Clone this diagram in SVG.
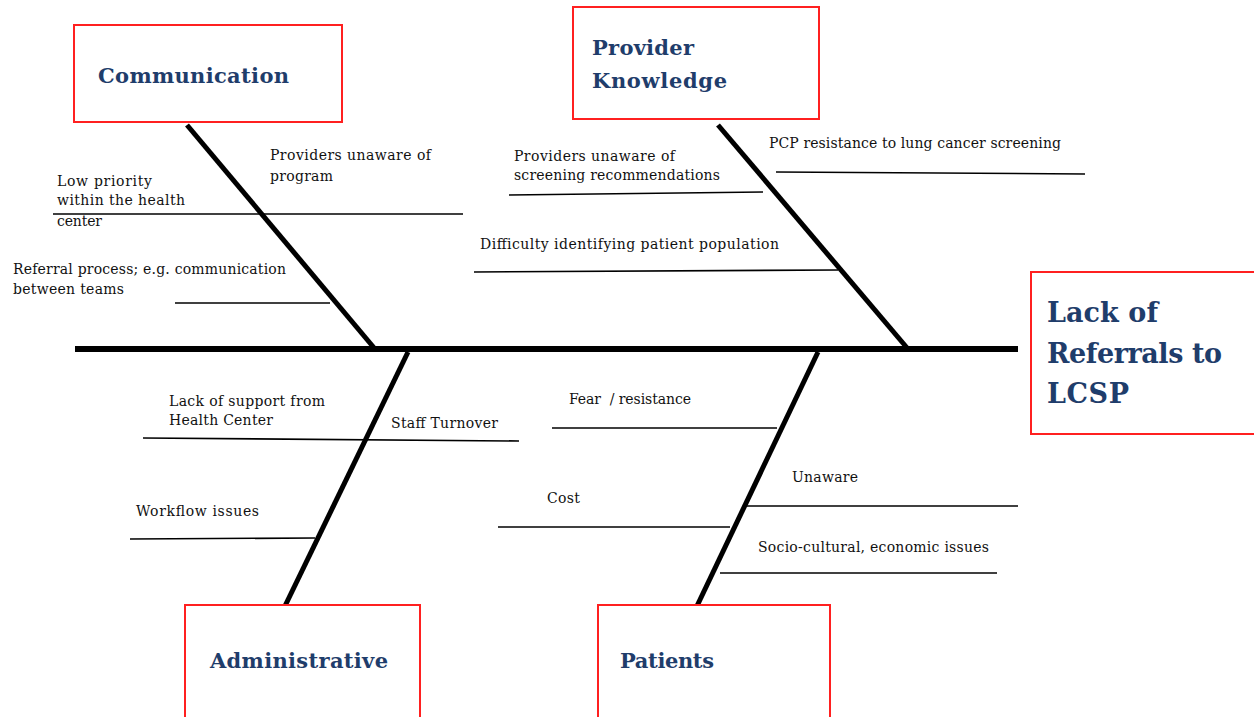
<svg xmlns="http://www.w3.org/2000/svg" width="1254" height="717" viewBox="0 0 1254 717">
  <style>
    .box { fill: #ffffff; stroke: #ff2020; stroke-width: 2; }
    .title { font-family: "DejaVu Serif", "Liberation Serif", serif; font-weight: bold; fill: #1f3d6b; }
    .bone { stroke: #000000; stroke-width: 5; stroke-linecap: butt; fill: none; }
    .spine { stroke: #000000; stroke-width: 6; fill: none; }
    .rib { stroke: #000000; stroke-width: 1.6; fill: none; }
    .cause { font-family: "DejaVu Serif", "Liberation Serif", serif; font-size: 14px; fill: #111111; }
  </style>
  <rect width="1254" height="717" fill="#ffffff"/>

  <!-- spine, bones and ribs -->
  <g id="connectors">
    <line class="spine" x1="75" y1="349" x2="1018" y2="349"/>
    <line class="bone" x1="187" y1="125" x2="375" y2="349"/>
    <line class="bone" x1="718" y1="125" x2="908" y2="349"/>
    <line class="bone" x1="408" y1="352" x2="285" y2="606"/>
    <line class="bone" x1="818" y1="352" x2="697" y2="606"/>

    <line class="rib" x1="53" y1="214" x2="463" y2="214"/>
    <line class="rib" x1="175" y1="303" x2="330" y2="303"/>
    <line class="rib" x1="509" y1="195" x2="763" y2="192"/>
    <line class="rib" x1="776" y1="172" x2="1085" y2="174"/>
    <line class="rib" x1="474" y1="272" x2="838" y2="270"/>
    <line class="rib" x1="143" y1="438" x2="519" y2="441"/>
    <line class="rib" x1="130" y1="539" x2="315" y2="538"/>
    <line class="rib" x1="552" y1="428" x2="777" y2="428"/>
    <line class="rib" x1="498" y1="527" x2="730" y2="527"/>
    <line class="rib" x1="745" y1="506" x2="1018" y2="506"/>
    <line class="rib" x1="720" y1="573" x2="997" y2="573"/>
  </g>

  <!-- cause labels -->
  <g id="communication-causes">
    <text class="cause" x="270" y="160" textLength="161">Providers unaware of</text>
    <text class="cause" x="270" y="181" textLength="63">program</text>
    <text class="cause" x="57" y="186" textLength="95">Low priority</text>
    <text class="cause" x="57" y="205" textLength="128">within the health</text>
    <text class="cause" x="57" y="226" textLength="45">center</text>
    <text class="cause" x="13" y="274" textLength="273">Referral process; e.g. communication</text>
    <text class="cause" x="13" y="294" textLength="111">between teams</text>
  </g>
  <g id="provider-causes">
    <text class="cause" x="514" y="161" textLength="161">Providers unaware of</text>
    <text class="cause" x="514" y="180" textLength="206">screening recommendations</text>
    <text class="cause" x="769" y="148" textLength="292">PCP resistance to lung cancer screening</text>
    <text class="cause" x="480" y="249" textLength="299">Difficulty identifying patient population</text>
  </g>
  <g id="administrative-causes">
    <text class="cause" x="169" y="406" textLength="156">Lack of support from</text>
    <text class="cause" x="169" y="425" textLength="104">Health Center</text>
    <text class="cause" x="391" y="428" textLength="107">Staff Turnover</text>
    <text class="cause" x="136" y="516" textLength="123">Workflow issues</text>
  </g>
  <g id="patient-causes">
    <text class="cause" x="569" y="404" textLength="122" xml:space="preserve">Fear  / resistance</text>
    <text class="cause" x="547" y="503" textLength="33">Cost</text>
    <text class="cause" x="792" y="482" textLength="66">Unaware</text>
    <text class="cause" x="758" y="552" textLength="231">Socio-cultural, economic issues</text>
  </g>

  <!-- category boxes -->
  <g id="communication">
    <rect class="box" x="74" y="25" width="268" height="97"/>
    <text class="title" x="98" y="83" font-size="21" textLength="191">Communication</text>
  </g>
  <g id="provider-knowledge">
    <rect class="box" x="573" y="7" width="246" height="112"/>
    <text class="title" x="592" y="55" font-size="21" textLength="102">Provider</text>
    <text class="title" x="592" y="88" font-size="21" textLength="135">Knowledge</text>
  </g>
  <g id="administrative">
    <rect class="box" x="185" y="605" width="235" height="130"/>
    <text class="title" x="210" y="668" font-size="21" textLength="178">Administrative</text>
  </g>
  <g id="patients">
    <rect class="box" x="598" y="605" width="232" height="130"/>
    <text class="title" x="620" y="668" font-size="21" textLength="94">Patients</text>
  </g>

  <!-- effect -->
  <g id="effect">
    <rect class="box" x="1031" y="272" width="240" height="162"/>
    <text class="title" x="1047" y="322" font-size="27" textLength="111">Lack of</text>
    <text class="title" x="1047" y="363" font-size="27" textLength="175">Referrals to</text>
    <text class="title" x="1047" y="403" font-size="27" textLength="82">LCSP</text>
  </g>
</svg>
